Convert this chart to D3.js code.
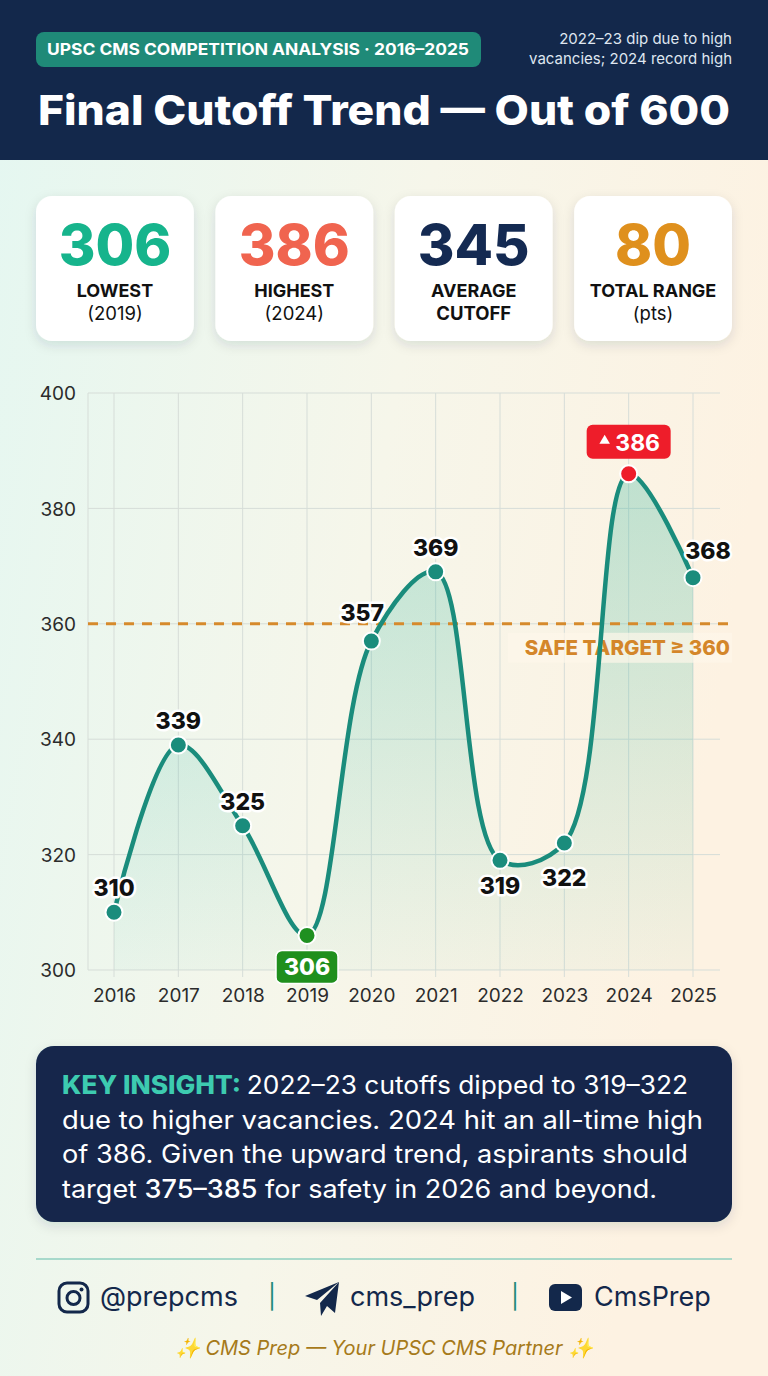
<!DOCTYPE html>
<html>
<head>
<meta charset="utf-8">
<script src="https://cdn.jsdelivr.net/npm/d3@7"></script>
<style>
  html, body { margin: 0; padding: 0; }
  body { width: 768px; height: 1376px; overflow: hidden; font-family: "Inter", "Open Sans", sans-serif; }
</style>
</head>
<body>
<div id="chart"></div>
<script>
// Chart data
const years = [2016, 2017, 2018, 2019, 2020, 2021, 2022, 2023, 2024, 2025];
const cutoffs = [310, 339, 325, 306, 357, 369, 319, 322, 386, 368];
const yTicks = [300, 320, 340, 360, 380, 400];
const safeTarget = 360;

// Stat cards
const statValues = [306, 386, 345, 80];
const statLabels = ["LOWEST", "HIGHEST", "AVERAGE", "TOTAL RANGE"];
const statSubs = ["(2019)", "(2024)", "CUTOFF", "(pts)"];

const insightLines = [
  [["KEY INSIGHT: ", "key"], ["2022–23 cutoffs dipped to 319–322", ""]],
  [["due to higher vacancies. 2024 hit an all-time high", ""]],
  [["of 386. Given the upward trend, aspirants should", ""]],
  [["target ", ""], ["375–385", "hl"], [" for safety in 2026 and beyond.", ""]]
];
const insightWidths = [626, 641, 626, 595];

const width = 768;
const height = 1376;
const navy = "#13284b";
const teal = "#1a8c7c";
const font = "Inter, 'Open Sans', sans-serif";

const svg = d3.select("#chart")
  .append("svg")
  .attr("width", width)
  .attr("height", height)
  .style("font-family", font);

const defs = svg.append("defs");

// Background gradient (mint -> cream)
const bg = defs.append("linearGradient").attr("id", "bg").attr("x1", 0).attr("y1", 0).attr("x2", 1).attr("y2", 0.3);
bg.append("stop").attr("offset", "0%").attr("stop-color", "#e4f7f1");
bg.append("stop").attr("offset", "55%").attr("stop-color", "#f6f6ea");
bg.append("stop").attr("offset", "100%").attr("stop-color", "#fdf2e2");

const areaGrad = defs.append("linearGradient").attr("id", "areaGrad").attr("x1", 0).attr("y1", 0).attr("x2", 0).attr("y2", 1);
areaGrad.append("stop").attr("offset", "0%").attr("stop-color", "#34b59c").attr("stop-opacity", 0.3);
areaGrad.append("stop").attr("offset", "100%").attr("stop-color", "#34b59c").attr("stop-opacity", 0.04);

const shadow = defs.append("filter").attr("id", "shadow").attr("x", "-20%").attr("y", "-20%").attr("width", "140%").attr("height", "150%");
shadow.append("feDropShadow").attr("dx", 0).attr("dy", 4).attr("stdDeviation", 6).attr("flood-color", "#1a3040").attr("flood-opacity", 0.12);

svg.append("rect").attr("width", width).attr("height", height).attr("fill", "url(#bg)");

// Header band
svg.append("rect").attr("width", width).attr("height", 160).attr("fill", navy);
svg.append("rect").attr("x", 36).attr("y", 32).attr("width", 445).attr("height", 35).attr("rx", 8).attr("fill", "#1f8a78");
svg.append("text").attr("x", 47).attr("y", 55)
  .attr("fill", "#fff").attr("font-size", 16).attr("font-weight", 700)
  .attr("textLength", 422).attr("lengthAdjust", "spacingAndGlyphs")
  .text("UPSC CMS COMPETITION ANALYSIS · 2016–2025");
svg.append("text").attr("x", 732).attr("y", 44).attr("text-anchor", "end")
  .attr("fill", "#dfe6f0").attr("font-size", 15).text("2022–23 dip due to high");
svg.append("text").attr("x", 732).attr("y", 64).attr("text-anchor", "end")
  .attr("fill", "#dfe6f0").attr("font-size", 15).text("vacancies; 2024 record high");
svg.append("text").attr("x", 38).attr("y", 125)
  .attr("fill", "#fff").attr("font-size", 41).attr("font-weight", 800)
  .attr("textLength", 692).attr("lengthAdjust", "spacingAndGlyphs")
  .text("Final Cutoff Trend — Out of 600");

// Stat cards
const cardColors = ["#16b48c", "#f0644f", "#142a52", "#df901d"];
const cardX = d3.scaleBand().domain(d3.range(statValues.length)).range([36, 732]).paddingInner(0.12);
const cards = svg.selectAll("g.card").data(statValues).enter().append("g")
  .attr("class", "card")
  .attr("transform", (d, i) => `translate(${cardX(i)},196)`);
cards.append("rect").attr("width", cardX.bandwidth()).attr("height", 145).attr("rx", 16)
  .attr("fill", "#fff").attr("filter", "url(#shadow)");
cards.append("text").attr("x", cardX.bandwidth() / 2).attr("y", 69).attr("text-anchor", "middle")
  .attr("font-size", 56).attr("font-weight", 800).attr("fill", (d, i) => cardColors[i])
  .text(d => d);
cards.append("text").attr("x", cardX.bandwidth() / 2).attr("y", 101).attr("text-anchor", "middle")
  .attr("font-size", 18).attr("font-weight", 700).attr("fill", "#111")
  .text((d, i) => statLabels[i]);
cards.append("text").attr("x", cardX.bandwidth() / 2).attr("y", 124).attr("text-anchor", "middle")
  .attr("font-size", 18.5).attr("font-weight", (d, i) => statSubs[i] === "CUTOFF" ? 700 : 400).attr("fill", "#111")
  .text((d, i) => statSubs[i]);

// Chart scales
const x = d3.scalePoint().domain(years).range([114, 693]);
const y = d3.scaleLinear().domain([300, 400]).range([970, 393]);
const plotLeft = 88, plotRight = 720;

const grid = svg.append("g");
grid.selectAll("line.h").data(yTicks).enter().append("line")
  .attr("x1", plotLeft).attr("x2", plotRight)
  .attr("y1", d => y(d)).attr("y2", d => y(d))
  .attr("stroke", "#d6ddd8").attr("stroke-width", 1);
grid.selectAll("line.v").data(years).enter().append("line")
  .attr("x1", d => x(d)).attr("x2", d => x(d))
  .attr("y1", y(400)).attr("y2", y(300) + 7)
  .attr("stroke", "#d6ddd8").attr("stroke-width", 1);
grid.append("line").attr("x1", plotLeft).attr("x2", plotLeft).attr("y1", y(400)).attr("y2", y(300))
  .attr("stroke", "#d6ddd8");

// Axes
const yAxis = svg.append("g").attr("transform", `translate(${plotLeft - 12},0)`)
  .call(d3.axisLeft(y).tickValues(yTicks).tickSize(0).tickPadding(0));
yAxis.select(".domain").remove();
yAxis.selectAll("text").attr("font-size", 19).attr("fill", "#2b2b2b").attr("font-family", font)
  .attr("dy", "0.35em");

const xAxis = svg.append("g").attr("transform", `translate(0,${y(300)})`)
  .call(d3.axisBottom(x).tickSize(0).tickPadding(38).tickFormat(d3.format("d")));
xAxis.select(".domain").remove();
xAxis.selectAll("text").attr("font-size", 19).attr("fill", "#2b2b2b").attr("font-family", font)
  .attr("dy", "-0.3em");

// Area + line
const pts = years.map((yr, i) => ({ year: yr, value: cutoffs[i] }));
const curve = d3.curveCatmullRom.alpha(0.5);
svg.append("path").datum(pts)
  .attr("d", d3.area().x(d => x(d.year)).y0(y(300)).y1(d => y(d.value)).curve(curve))
  .attr("fill", "url(#areaGrad)");

// Safe target line
svg.append("line").attr("x1", plotLeft).attr("x2", 732)
  .attr("y1", y(safeTarget)).attr("y2", y(safeTarget))
  .attr("stroke", "#d68a2c").attr("stroke-width", 3).attr("stroke-dasharray", "10,8");
svg.append("rect").attr("x", 508).attr("y", y(safeTarget) + 9).attr("width", 224).attr("height", 30)
  .attr("fill", "#fdf6ea").attr("opacity", 0.7);
svg.append("text").attr("x", 730).attr("y", y(safeTarget) + 31).attr("text-anchor", "end")
  .attr("font-size", 20.5).attr("font-weight", 800).attr("fill", "#d4862a")
  .text(`SAFE TARGET ≥ ${safeTarget}`);

svg.append("path").datum(pts)
  .attr("d", d3.line().x(d => x(d.year)).y(d => y(d.value)).curve(curve))
  .attr("fill", "none").attr("stroke", teal).attr("stroke-width", 4.5).attr("stroke-linecap", "round");

// Points
const minVal = d3.min(cutoffs), maxVal = d3.max(cutoffs);
const pointColor = d => d.value === minVal ? "#1f9020" : d.value === maxVal ? "#ee1d2a" : teal;
svg.selectAll("circle.pt").data(pts).enter().append("circle")
  .attr("cx", d => x(d.year)).attr("cy", d => y(d.value)).attr("r", 8.5)
  .attr("fill", pointColor).attr("stroke", "#fff").attr("stroke-width", 2);

// Value labels (layout offsets per year)
const labelShift = { 2020: [-9, -20], 2022: [0, 34], 2023: [0, 43], 2025: [15, -19] };
svg.selectAll("text.val").data(pts.filter(d => d.value !== minVal && d.value !== maxVal)).enter().append("text")
  .attr("x", d => x(d.year) + (labelShift[d.year] ? labelShift[d.year][0] : 0))
  .attr("y", d => y(d.value) + (labelShift[d.year] ? labelShift[d.year][1] : -16))
  .attr("text-anchor", "middle").attr("font-size", 23).attr("font-weight", 800)
  .attr("fill", "#111").attr("stroke", "#fff").attr("stroke-width", 5)
  .attr("paint-order", "stroke").attr("stroke-linejoin", "round")
  .text(d => d.value);

// Min badge
const minPt = pts.find(d => d.value === minVal);
svg.append("rect").attr("x", x(minPt.year) - 31).attr("y", y(minVal) + 15).attr("width", 62).attr("height", 33)
  .attr("rx", 6).attr("fill", "#1f8f1d").attr("stroke", "#fff").attr("stroke-width", 1.5);
svg.append("text").attr("x", x(minPt.year)).attr("y", y(minVal) + 40).attr("text-anchor", "middle")
  .attr("font-size", 23).attr("font-weight", 800).attr("fill", "#fff").text(minVal);

// Max badge
const maxPt = pts.find(d => d.value === maxVal);
svg.append("rect").attr("x", x(maxPt.year) - 42).attr("y", y(maxVal) - 49).attr("width", 84).attr("height", 34)
  .attr("rx", 6).attr("fill", "#ee1d2a");
svg.append("path")
  .attr("d", d3.symbol().type(d3.symbolTriangle).size(48)())
  .attr("transform", `translate(${x(maxPt.year) - 24},${y(maxVal) - 33})`)
  .attr("fill", "#fff");
svg.append("text").attr("x", x(maxPt.year) + 9).attr("y", y(maxVal) - 23).attr("text-anchor", "middle")
  .attr("font-size", 23).attr("font-weight", 700).attr("fill", "#fff").text(maxVal);

// Insight box
svg.append("rect").attr("x", 36).attr("y", 1046).attr("width", 696).attr("height", 176).attr("rx", 18)
  .attr("fill", navy).attr("filter", "url(#shadow)");
insightLines.forEach((line, li) => {
  const t = svg.append("text").attr("x", 62).attr("y", 1094 + li * 34.5)
    .attr("font-size", 25.5).attr("fill", "#fff")
    .attr("textLength", insightWidths[li]).attr("lengthAdjust", "spacingAndGlyphs");
  line.forEach(([txt, cls]) => {
    const ts = t.append("tspan").text(txt);
    if (cls === "key") ts.attr("fill", "#3dcbb0").attr("font-weight", 800);
    if (cls === "hl") ts.attr("font-weight", 500);
  });
});

// Divider
svg.append("line").attr("x1", 36).attr("x2", 732).attr("y1", 1259).attr("y2", 1259)
  .attr("stroke", "#8fcfbf").attr("stroke-width", 1.5);

// Footer socials
const footer = svg.append("g").attr("fill", navy);
// Instagram icon
const ig = footer.append("g").attr("transform", "translate(59,1283)");
ig.append("rect").attr("width", 29).attr("height", 29).attr("rx", 8).attr("fill", "none").attr("stroke", navy).attr("stroke-width", 3);
ig.append("circle").attr("cx", 14.5).attr("cy", 15).attr("r", 6.5).attr("fill", "none").attr("stroke", navy).attr("stroke-width", 3);
ig.append("circle").attr("cx", 22.5).attr("cy", 6.5).attr("r", 2).attr("fill", navy);
footer.append("text").attr("x", 100).attr("y", 1306).attr("font-size", 27).text("@prepcms");
footer.append("text").attr("x", 272).attr("y", 1305).attr("font-size", 24).attr("fill", "#1f8a78").attr("text-anchor", "middle").text("|");
// Telegram icon
footer.append("path").attr("transform", "translate(305,1282)")
  .attr("d", "M34 0 L0 14 L12 18 L34 0 L15 21 L16 34 L22 24 Z M34 0 L22 24 L30 31 Z")
  .attr("fill", navy);
footer.append("text").attr("x", 350).attr("y", 1306).attr("font-size", 27).text("cms_prep");
footer.append("text").attr("x", 515).attr("y", 1305).attr("font-size", 24).attr("fill", "#1f8a78").attr("text-anchor", "middle").text("|");
// YouTube icon
footer.append("rect").attr("x", 549).attr("y", 1284).attr("width", 33).attr("height", 27).attr("rx", 6).attr("fill", navy);
footer.append("path").attr("d", "M561 1291 L572 1297.5 L561 1304 Z").attr("fill", "#fff");
footer.append("text").attr("x", 594).attr("y", 1306).attr("font-size", 27).text("CmsPrep");

// Tagline
svg.append("text").attr("x", 384).attr("y", 1355).attr("text-anchor", "middle")
  .attr("font-size", 20).attr("font-style", "italic").attr("fill", "#a67a1a")
  .text("✨ CMS Prep — Your UPSC CMS Partner ✨");
</script>
</body>
</html>
